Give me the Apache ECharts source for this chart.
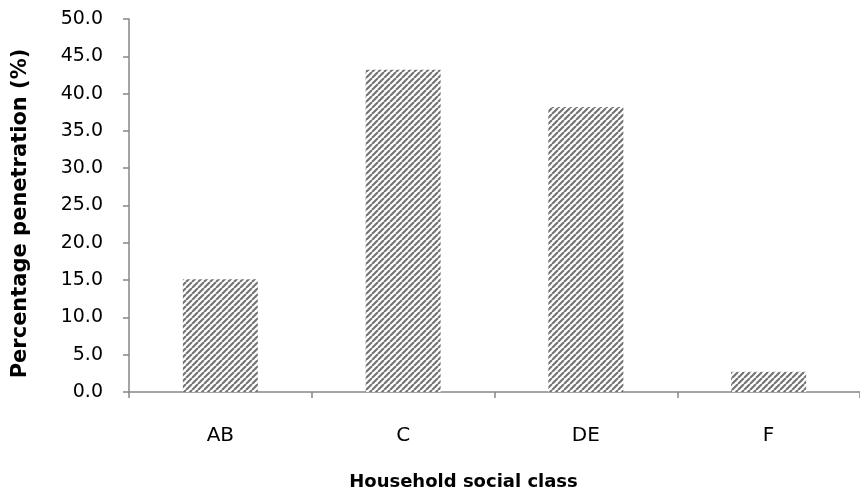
<!DOCTYPE html>
<html>
<head>
<meta charset="utf-8">
<script src="https://cdn.jsdelivr.net/npm/echarts@6/dist/echarts.min.js"></script>
<style>
html,body{margin:0;padding:0;background:#fff;}
#chart{width:860px;height:497px;}
</style>
</head>
<body>
<div id="chart"></div>
<script>
// Household social class vs. percentage penetration
const categories = ['AB', 'C', 'DE', 'F'];
const penetration = [15.1, 43.2, 38.2, 2.7];
const yTicks = { min: 0, max: 50, interval: 5 };

// Diagonal hatch fill for the bars
function hatchPattern() {
  const size = 6;
  const c = document.createElement('canvas');
  c.width = size; c.height = size;
  const g = c.getContext('2d');
  g.fillStyle = '#ffffff';
  g.fillRect(0, 0, size, size);
  g.strokeStyle = '#727272';
  g.lineWidth = 2.1;
  g.beginPath();
  for (let k = -1; k <= 1; k++) {
    g.moveTo(k * size, size);
    g.lineTo(k * size + size, 0);
  }
  g.stroke();
  return c;
}

const font = '"DejaVu Sans", sans-serif';
const axisGray = '#868686';
const chart = echarts.init(document.getElementById('chart'), null, { renderer: 'canvas' });
chart.setOption({
  animation: false,
  backgroundColor: '#fff',
  grid: { left: 129, top: 19, width: 737, height: 373, containLabel: false },
  xAxis: {
    type: 'category',
    data: categories,
    name: 'Household social class',
    nameLocation: 'middle',
    nameGap: 81,
    nameTextStyle: { fontFamily: font, fontWeight: 'bold', fontSize: 18, color: '#000', padding: [0, 62, 0, 0] },
    axisLine: { lineStyle: { color: axisGray, width: 1.5 } },
    axisTick: { show: true, alignWithLabel: false, length: 6, lineStyle: { color: axisGray, width: 1.5 } },
    axisLabel: { fontFamily: font, fontSize: 20, color: '#000', margin: 34 }
  },
  yAxis: {
    type: 'value',
    min: yTicks.min, max: yTicks.max, interval: yTicks.interval,
    name: 'Percentage penetration (%)',
    nameLocation: 'middle',
    nameGap: 98,
    nameRotate: 90,
    nameTextStyle: { fontFamily: font, fontWeight: 'bold', fontSize: 21, color: '#000', padding: [0, 16, 0, 0] },
    axisLine: { show: true, lineStyle: { color: axisGray, width: 1.5 } },
    axisTick: { show: true, length: 6, lineStyle: { color: axisGray, width: 1.5 } },
    splitLine: { show: false },
    axisLabel: { fontFamily: font, fontSize: 19, color: '#000', margin: 16, padding: [0, 10, 0, 0], formatter: v => v.toFixed(1) }
  },
  series: [{
    type: 'bar',
    data: penetration,
    barWidth: 75,
    itemStyle: { color: { image: hatchPattern(), repeat: 'repeat' } }
  }]
});
</script>
</body>
</html>
